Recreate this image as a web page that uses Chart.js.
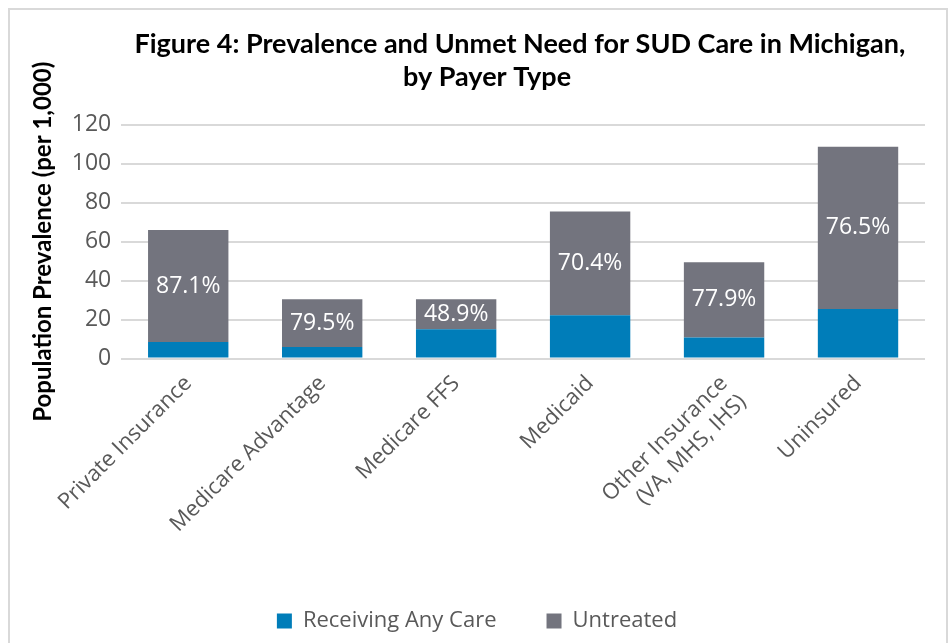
<!DOCTYPE html>
<html lang="en">

<head>
    <meta charset="UTF-8">
    <title>Figure 4: Prevalence and Unmet Need for SUD Care in Michigan</title>
    <style>
        body {
            margin: 0;
            background: #ffffff;
        }

        .frame {
            position: absolute;
            left: 8px;
            top: 8px;
            width: 936px;
            height: 640px;
            border: 2px solid #d9d9d9;
        }
    </style>
</head>

<body>
    <div class="frame">
        <canvas id="myChart" width="936" height="640"></canvas>
    </div>

    <script src="https://cdn.jsdelivr.net/npm/chart.js@4.4.0/dist/chart.umd.min.js"></script>
    <script>
        // payer types (x axis)
        var payerTypes = [
            "Private Insurance",
            "Medicare Advantage",
            "Medicare FFS",
            "Medicaid",
            ["Other Insurance", "(VA, MHS, IHS)"],
            "Uninsured"
        ];

        // population prevalence per 1,000
        var receivingCare = [8.5, 6.0, 15.0, 22.2, 10.8, 25.5];
        var untreated = [57.5, 24.5, 15.5, 53.3, 38.7, 83.3];

        // printed share untreated, shown on the grey segments
        var untreatedPct = ["87.1%", "79.5%", "48.9%", "70.4%", "77.9%", "76.5%"];

        var yTicks = [0, 20, 40, 60, 80, 100, 120];

        var textGrey = "#595959";

        // writes the % label in the middle of each untreated segment
        var segmentLabels = {
            id: "segmentLabels",
            afterDatasetsDraw: function(chart) {
                var ctx = chart.ctx;
                var meta = chart.getDatasetMeta(1);
                ctx.save();
                ctx.fillStyle = "#ffffff";
                ctx.font = "23px 'Open Sans'";
                ctx.textAlign = "center";
                ctx.textBaseline = "middle";
                meta.data.forEach(function(bar, i) {
                    var mid = (bar.y + bar.base) / 2;
                    ctx.fillText(untreatedPct[i], bar.x, mid);
                });
                ctx.restore();
            }
        };

        function createChart() {
            var ctx = document.getElementById("myChart").getContext("2d");
            new Chart(ctx, {
                type: "bar",
                data: {
                    labels: payerTypes,
                    datasets: [{
                        label: "Receiving Any Care",
                        data: receivingCare,
                        backgroundColor: "#007db9"
                    }, {
                        label: "Untreated",
                        data: untreated,
                        backgroundColor: "#73747e"
                    }]
                },
                options: {
                    responsive: false,
                    animation: false,
                    layout: {
                        padding: { left: 19, right: 21, top: 16, bottom: 8 }
                    },
                    datasets: {
                        bar: {
                            categoryPercentage: 0.6,
                            barPercentage: 1.0
                        }
                    },
                    scales: {
                        x: {
                            stacked: true,
                            grid: { display: false },
                            border: { display: false },
                            ticks: {
                                color: textGrey,
                                font: { family: "'Open Sans'", size: 22 },
                                minRotation: 45,
                                maxRotation: 45,
                                padding: 4
                            }
                        },
                        y: {
                            stacked: true,
                            min: 0,
                            max: 120,
                            afterBuildTicks: function(axis) {
                                axis.ticks = yTicks.map(function(v) { return { value: v }; });
                            },
                            grid: {
                                color: "#d9d9d9",
                                lineWidth: 2,
                                drawTicks: false
                            },
                            border: { display: false },
                            ticks: {
                                color: textGrey,
                                font: { family: "'Open Sans'", size: 23 },
                                padding: 10
                            },
                            title: {
                                display: true,
                                text: "Population Prevalence (per 1,000)",
                                color: "#000000",
                                font: { family: "Lato", weight: "bold", size: 24 },
                                padding: { top: 0, bottom: 4 }
                            }
                        }
                    },
                    plugins: {
                        title: {
                            display: true,
                            fullSize: false,
                            // trailing spaces nudge the lines left like the original
                            text: ["Figure 4: Prevalence and Unmet Need for SUD Care in Michigan,\u00a0",
                                "by Payer Type" + "\u00a0".repeat(11)],
                            color: "#000000",
                            font: { family: "Lato", weight: "bold", size: 27, lineHeight: 1.22 },
                            padding: { top: 2, bottom: 31 }
                        },
                        legend: {
                            position: "bottom",
                            labels: {
                                color: textGrey,
                                font: { family: "'Open Sans'", size: 22 },
                                boxWidth: 15,
                                boxHeight: 15,
                                padding: 50
                            }
                        },
                        tooltip: { enabled: false }
                    }
                },
                plugins: [segmentLabels]
            });
        }

        createChart();
    </script>

</body>

</html>
